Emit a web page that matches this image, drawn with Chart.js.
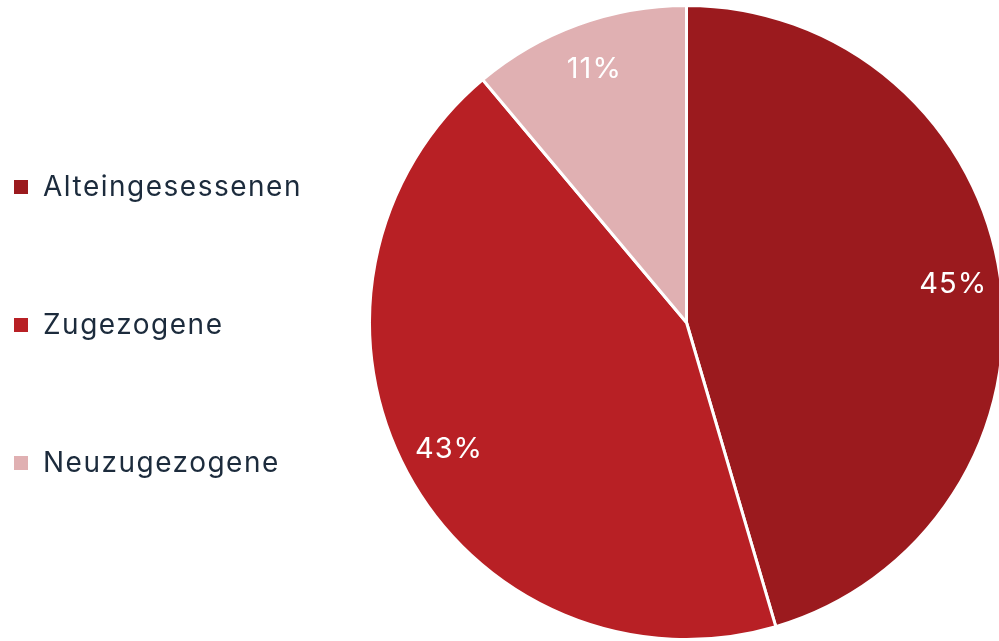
<!DOCTYPE html>
<html>
<head>
<meta charset="utf-8">
<script src="https://cdn.jsdelivr.net/npm/chart.js@4.4.1/dist/chart.umd.min.js"></script>
<style>
  html, body { margin: 0; padding: 0; background: #ffffff; }
  #frame { width: 999px; height: 641px; overflow: hidden; position: relative; }
  #wrap { width: 1012px; height: 641px; }
</style>
</head>
<body>
<div id="frame"><div id="wrap"><canvas id="c"></canvas></div></div>
<script>
// Bevölkerungsanteile nach Wohndauer
const categories = ['Alteingesessenen', 'Zugezogene', 'Neuzugezogene'];
const shares = [45, 43, 11];
const sliceColors = ['#9b1a1e', '#b82025', '#e0b0b2'];

const TEXT_FONT = 'Inter, "Open Sans", sans-serif';

// Percentage labels inside each slice, placed along the slice's mid-angle
const sliceLabels = {
  id: 'sliceLabels',
  afterDatasetsDraw(chart) {
    const { ctx } = chart;
    const meta = chart.getDatasetMeta(0);
    ctx.save();
    ctx.fillStyle = '#ffffff';
    ctx.font = '400 29px ' + TEXT_FONT;
    ctx.letterSpacing = '1px';
    ctx.textAlign = 'center';
    ctx.textBaseline = 'middle';
    meta.data.forEach((arc, i) => {
      const { x, y, startAngle, endAngle, outerRadius } = arc.getProps(['x', 'y', 'startAngle', 'endAngle', 'outerRadius'], true);
      const mid = (startAngle + endAngle) / 2;
      const r = outerRadius * 0.85;
      ctx.fillText(shares[i] + '%', x + Math.cos(mid) * r, y + Math.sin(mid) * r);
    });
    ctx.restore();
  }
};

// Vertical legend with square markers at the left side
const sideLegend = {
  id: 'sideLegend',
  afterDraw(chart) {
    const { ctx } = chart;
    const labels = chart.data.labels;
    const colors = chart.data.datasets[0].backgroundColor;
    const top = 187, step = 138, box = 14;
    ctx.save();
    ctx.font = '400 28px ' + TEXT_FONT;
    ctx.letterSpacing = '1.5px';
    ctx.textBaseline = 'middle';
    ctx.textAlign = 'left';
    labels.forEach((label, i) => {
      const cy = top + i * step;
      ctx.fillStyle = colors[i];
      ctx.fillRect(14, cy - box / 2, box, box);
      ctx.fillStyle = '#1c2b3c';
      ctx.fillText(label, 43, cy + 1);
    });
    ctx.restore();
  }
};

new Chart(document.getElementById('c'), {
  type: 'pie',
  data: {
    labels: categories,
    datasets: [{
      data: shares,
      backgroundColor: sliceColors,
      borderColor: '#ffffff',
      borderWidth: 3
    }]
  },
  options: {
    responsive: true,
    maintainAspectRatio: false,
    animation: false,
    layout: { padding: { left: 367, top: 4, right: 6, bottom: 0 } },
    plugins: {
      legend: { display: false },
      tooltip: { enabled: false }
    }
  },
  plugins: [sliceLabels, sideLegend]
});
</script>
</body>
</html>
